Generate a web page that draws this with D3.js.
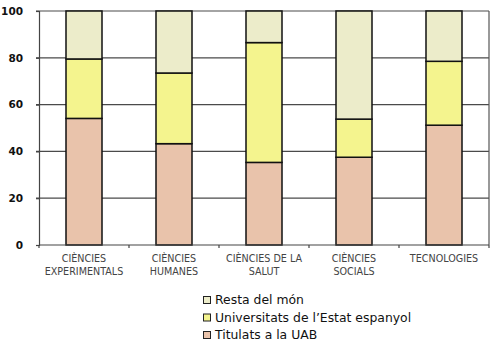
<!DOCTYPE html>
<html>
<head>
<meta charset="utf-8">
<script src="https://cdn.jsdelivr.net/npm/d3@7"></script>
<style>
  html, body { margin: 0; padding: 0; background: #fff; }
  svg { display: block; }
</style>
</head>
<body>
<svg id="chart" width="501" height="346"></svg>
<script>
// Graduates by field of study, share (%) by origin of degree
const categories = [
  ["CIÈNCIES", "EXPERIMENTALS"],
  ["CIÈNCIES", "HUMANES"],
  ["CIÈNCIES DE LA", "SALUT"],
  ["CIÈNCIES", "SOCIALS"],
  ["TECNOLOGIES"]
];
const seriesNames = ["Titulats a la UAB", "Universitats de l’Estat espanyol", "Resta del món"];
const titulatsUAB = [54.1, 43.3, 35.3, 37.5, 51.2];
const universitatsEstat = [25.4, 30.2, 51.2, 16.3, 27.3];
const restaMon = [20.5, 26.5, 13.5, 46.2, 21.5];
const yTicks = [0, 20, 40, 60, 80, 100];
const colors = ["#e9c3ab", "#f4f48e", "#ececca"];

const svg = d3.select("#chart");
const margin = { left: 39, right: 12, top: 11, bottom: 101 };
const W = 501, H = 346;
const plotW = W - margin.left - margin.right;
const plotH = H - margin.top - margin.bottom;

const x = d3.scaleBand().domain(d3.range(categories.length))
  .range([margin.left, margin.left + plotW]).paddingInner(0).paddingOuter(0);
const y = d3.scaleLinear().domain([0, 100]).range([margin.top + plotH, margin.top]);

const rows = categories.map((c, i) => ({ i, v: [titulatsUAB[i], universitatsEstat[i], restaMon[i]] }));
const stack = d3.stack().keys([0, 1, 2]).value((d, k) => d.v[k]);
const stacked = stack(rows);

// grid lines
svg.append("g").selectAll("line").data(yTicks.filter(t => t > 0)).join("line")
  .attr("x1", margin.left - 3).attr("x2", margin.left + plotW)
  .attr("y1", d => y(d)).attr("y2", d => y(d))
  .attr("stroke", "#4a4a4a").attr("stroke-width", 1.2);

// right frame line
svg.append("line")
  .attr("x1", margin.left + plotW).attr("x2", margin.left + plotW)
  .attr("y1", y(100)).attr("y2", y(0))
  .attr("stroke", "#555").attr("stroke-width", 1.2);

// bars
const barW = x.bandwidth() * 0.4;
svg.append("g").selectAll("g").data(stacked).join("g")
  .attr("fill", (d, k) => colors[k])
  .selectAll("rect").data(d => d).join("rect")
  .attr("x", d => x(d.data.i) + (x.bandwidth() - barW) / 2)
  .attr("width", barW)
  .attr("y", d => y(Math.min(d[1], 100)))
  .attr("height", d => y(d[0]) - y(Math.min(d[1], 100)))
  .attr("stroke", "#111").attr("stroke-width", 1.5);

// y axis
const yAxis = svg.append("g").attr("transform", `translate(${margin.left},0)`)
  .call(d3.axisLeft(y).tickValues(yTicks).tickSize(3).tickPadding(13));
yAxis.select(".domain").attr("stroke", "#444").attr("stroke-width", 1.2);
yAxis.selectAll(".tick line").attr("stroke", "#444").attr("stroke-width", 1.2);
yAxis.selectAll("text").attr("font-family", "DejaVu Sans, Verdana, sans-serif")
  .attr("font-size", 10.5).attr("font-weight", "bold").attr("fill", "#111");

// x axis: ticks at category boundaries
const xb = svg.append("g").attr("transform", `translate(0,${y(0)})`);
xb.append("line").attr("x1", margin.left).attr("x2", margin.left + plotW)
  .attr("stroke", "#444").attr("stroke-width", 1.2);
xb.selectAll("line.t").data(d3.range(categories.length + 1)).join("line")
  .attr("class", "t")
  .attr("x1", d => margin.left + d * x.bandwidth()).attr("x2", d => margin.left + d * x.bandwidth())
  .attr("y1", 0).attr("y2", 3).attr("stroke", "#444").attr("stroke-width", 1.2);

const xl = svg.append("g");
categories.forEach((lines, i) => {
  const t = xl.append("text")
    .attr("x", x(i) + x.bandwidth() / 2).attr("y", y(0) + 17)
    .attr("text-anchor", "middle")
    .attr("font-family", "DejaVu Sans, Verdana, sans-serif")
    .attr("font-size", 9.6).attr("fill", "#444");
  lines.forEach((l, j) => t.append("tspan")
    .attr("x", x(i) + x.bandwidth() / 2).attr("dy", j === 0 ? 0 : 12.5).text(l));
});

// legend (top entry is the top of the stack)
const legendOrder = [2, 1, 0];
const lg = svg.append("g").attr("transform", "translate(203,300)");
legendOrder.forEach((k, r) => {
  const g = lg.append("g").attr("transform", `translate(0,${r * 17.5})`);
  g.append("rect").attr("x", 0.5).attr("y", -3.5).attr("width", 7).attr("height", 7)
    .attr("fill", colors[k]).attr("stroke", "#222").attr("stroke-width", 1);
  g.append("text").attr("x", 12).attr("y", 0).attr("dy", "0.36em")
    .attr("font-family", "DejaVu Sans, Verdana, sans-serif")
    .attr("font-size", 12.4).attr("fill", "#111").text(seriesNames[k]);
});
</script>
</body>
</html>
